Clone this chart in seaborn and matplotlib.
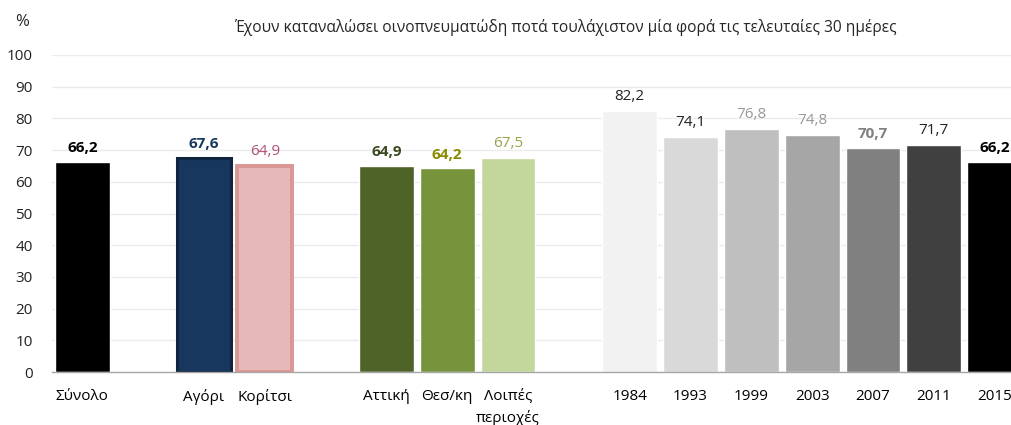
import pandas as pd
import matplotlib.pyplot as plt
import seaborn as sns

# Data
categories = ["Σύνολο", "Αγόρι", "Κορίτσι", "Αττική", "Θεσ/κη", "Λοιπές\nπεριοχές",
              "1984", "1993", "1999", "2003", "2007", "2011", "2015"]
values = [66.2, 67.6, 64.9, 64.9, 64.2, 67.5, 82.2, 74.1, 76.8, 74.8, 70.7, 71.7, 66.2]
# slot order with empty gaps between groups
slot_order = ["Σύνολο", " ", "Αγόρι", "Κορίτσι", "  ", "Αττική", "Θεσ/κη", "Λοιπές\nπεριοχές",
              "   ", "1984", "1993", "1999", "2003", "2007", "2011", "2015"]

bar_colors = ["#000000", "#17375E", "#E6B9B8", "#4F6228", "#77933C", "#C3D69B",
              "#F2F2F2", "#D9D9D9", "#BFBFBF", "#A6A6A6", "#808080", "#404040", "#000000"]
label_colors = ["#000000", "#17375E", "#B0507A", "#3B4A1E", "#8A8A00", "#9BA04A",
                "#222222", "#222222", "#999999", "#999999", "#808080", "#222222", "#000000"]
label_bold = [True, True, False, True, True, False,
              False, False, False, False, True, False, True]
edges = {"Αγόρι": ("#0F243E", 2.2), "Κορίτσι": ("#D99694", 2.8)}

title = "Έχουν καταναλώσει οινοπνευματώδη ποτά τουλάχιστον μία φορά τις τελευταίες 30 ημέρες"

df = pd.DataFrame({"cat": categories, "val": values})

sns.set_style("white")
plt.rcParams["font.family"] = ["Open Sans", "DejaVu Sans"]

fig = plt.figure(figsize=(10.11, 4.25), dpi=100)
# axes slightly wider than the figure: the last bar is cut off in the original
ax = fig.add_axes([52 / 1011, 1 - 372 / 425, 973 / 1011, 317 / 425])

sns.barplot(data=df, x="cat", y="val", hue="cat", order=slot_order,
            palette=dict(zip(categories, bar_colors)), legend=False,
            width=0.9, saturation=1, ax=ax, zorder=2)

# edges for the gender bars
for p in ax.patches:
    idx = int(round(p.get_x() + p.get_width() / 2))
    name = slot_order[idx]
    if name in edges:
        p.set_edgecolor(edges[name][0])
        p.set_linewidth(edges[name][1])

# value labels
for name, v, c, b in zip(categories, values, label_colors, label_bold):
    ax.annotate(f"{v:.1f}".replace(".", ","), (slot_order.index(name), v),
                xytext=(0, 5), textcoords="offset points", ha="center", va="bottom",
                fontsize=11, color=c, fontweight="bold" if b else "normal")

ax.set_xlim(-0.5, len(slot_order) - 0.5)
ax.set_ylim(0, 100)
ax.set_yticks(range(0, 101, 10))
ax.yaxis.grid(True, color="#EBEBEB", linewidth=1, zorder=0)
ax.set_axisbelow(True)

ax.set_xticks(range(len(slot_order)))
ax.set_xticklabels([s.strip() for s in slot_order], linespacing=1.5)
ax.set_xticks([i - 0.5 for i in range(len(slot_order) + 1)], minor=True)
ax.tick_params(axis="x", which="major", length=0, pad=12, labelsize=11, colors="#000000")
ax.tick_params(axis="x", which="minor", length=5, width=1, color="#B0B0B0", direction="out")
ax.tick_params(axis="y", length=0, pad=14, labelsize=11, colors="#222222")

for side in ["top", "right", "left"]:
    ax.spines[side].set_visible(False)
ax.spines["bottom"].set_color("#A6A6A6")
ax.spines["bottom"].set_linewidth(1)

ax.set_xlabel("")
ax.set_ylabel("")

fig.text(15 / 1011, 1 - 22 / 425, "%", fontsize=12, va="center", ha="left")
fig.text(565 / 1011, 1 - 27 / 425, title, fontsize=11.2, va="center", ha="center")

fig.savefig("out.png", dpi=100)
